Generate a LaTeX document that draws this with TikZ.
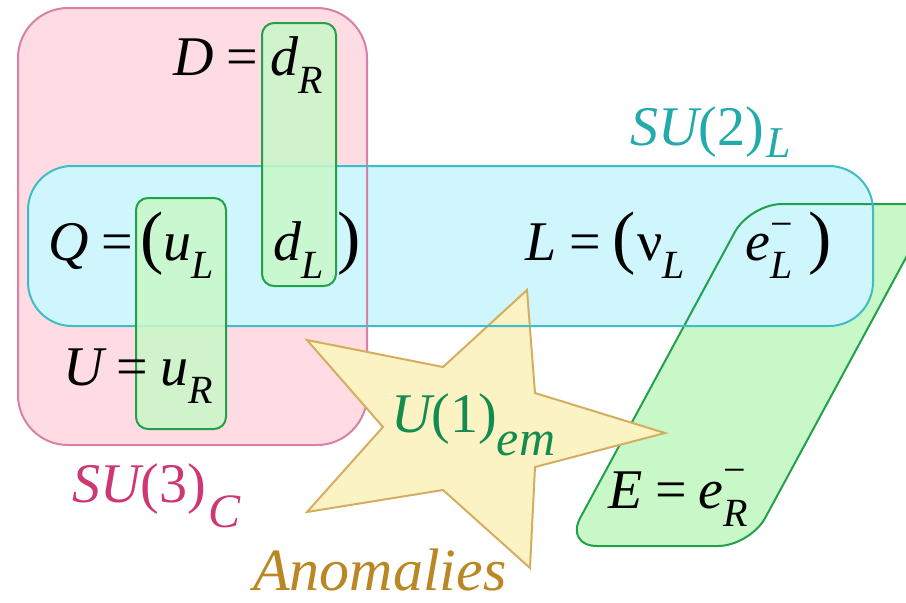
\documentclass[tikz,border=0pt]{standalone}
\usepackage{fontspec}
\setmainfont{Liberation Serif}
\definecolor{pinkfill}{HTML}{FFDCE4}
\definecolor{pinkline}{HTML}{D782A5}
\definecolor{cyanfill}{HTML}{CFF6FC}
\definecolor{cyanline}{HTML}{40BCC4}
\definecolor{greenfill}{HTML}{C8F8C8}
\definecolor{greenline}{HTML}{22A04A}
\definecolor{starfill}{HTML}{FCF3C4}
\definecolor{starline}{HTML}{D4AE5E}
\definecolor{su2c}{HTML}{23AAAA}
\definecolor{su3c}{HTML}{CD3773}
\definecolor{u1c}{HTML}{148C50}
\definecolor{anc}{HTML}{B98723}
\newcommand\mainsz{\fontsize{56}{60}\selectfont}
\newcommand\eqs{\hspace{13pt}{\upshape =}\hspace{12pt}}
\newcommand\lsub[1]{\raisebox{-18pt}{\fontsize{40}{40}\selectfont\itshape #1}}
\newcommand\lsubsup[2]{\makebox[0pt][l]{\raisebox{-18pt}{\fontsize{40}{40}\selectfont\itshape #1}}\raisebox{#2}{\fontsize{40}{40}\selectfont\upshape −}}
\newcommand\bigparen[1]{{\fontsize{70}{70}\selectfont\upshape #1}}
\begin{document}
\begin{tikzpicture}[x=1pt,y=-1pt,
  txt/.style={inner sep=0pt, anchor=base west, font=\mainsz\itshape},
  greenbox/.style={fill=greenfill, fill opacity=0.85, draw=greenline, line width=2pt, rounded corners=12pt}]
\useasboundingbox (0,0) rectangle (906,603);
\clip (0,0) rectangle (906,603);
\def\pinkshape{(18,8) rectangle (367,445)}
\def\cyanshape{(28,166) rectangle (873,326)}
\def\parashape{(750,204) -- (935,204) -- (750,546) -- (565,546) -- cycle}
% fills
\fill[pinkfill, rounded corners=50pt] \pinkshape;
\fill[greenfill, rounded corners=32pt] \parashape;
\fill[cyanfill, rounded corners=44pt] \cyanshape;
% borders visible through cyan
\draw[pinkline, line width=2pt, rounded corners=50pt] \pinkshape;
\draw[greenline, line width=2pt, rounded corners=32pt] \parashape;
% star
\draw[fill=starfill, draw=starline, line width=2pt, line join=miter]
  (527,290) -- (535,393) -- (665,433) -- (535,467) -- (530,568) -- (443,490)
  -- (307,512) -- (383,427) -- (307,340) -- (443,367) -- cycle;
\draw[cyanline, line width=2pt, rounded corners=44pt] \cyanshape;
% green boxes
\path[greenbox] (262,23) rectangle (336,286);
\path[greenbox] (136,198) rectangle (226,429);
% texts
\node[txt] (Dlab) at (173,75) {D\eqs d\lsub{R}};
\node[txt] (Qlab) at (48,260) {Q\eqs};
\node[txt] (Qop) at (140,260) {\bigparen{(}};
\node[txt] (uL) at (163,260) {u\lsub{L}};
\node[txt] (dL) at (273,260) {d\lsub{L}};
\node[txt] (Qcl) at (337,260) {\bigparen{)}};
\node[txt] (Llab) at (525,260) {L\eqs};
\node[txt] (Lop) at (612,260) {\bigparen{(}};
\node[txt] (nuL) at (637,260) {{\upshape ν}\lsub{L}};
\node[txt] (eL) at (745,260) {e\lsubsup{L}{23pt}};
\node[txt] (Lcl) at (808,260) {\bigparen{)}};
\node[txt] (Ulab) at (63,385) {U\eqs u\lsub{R}};
\node[txt] (Elab) at (608,508) {E\eqs e\lsubsup{R}{25pt}};
\node[txt, text=su2c] (su2) at (630,145) {SU{\upshape(2)}\hspace{3pt}\raisebox{-12pt}{\fontsize{44}{44}\selectfont L}};
\node[txt, text=su3c] (su3) at (72,502) {SU{\upshape(3)}\hspace{3pt}\raisebox{-25pt}{\fontsize{48}{48}\selectfont C}};
\node[txt, text=u1c] (u1) at (391,432) {U{\upshape(1)}\raisebox{-23pt}{\fontsize{50}{50}\selectfont em}};
\node[txt, text=anc, font=\fontsize{60}{60}\selectfont\itshape] (anom) at (253,590) {Anomalies};
\end{tikzpicture}
\end{document}
